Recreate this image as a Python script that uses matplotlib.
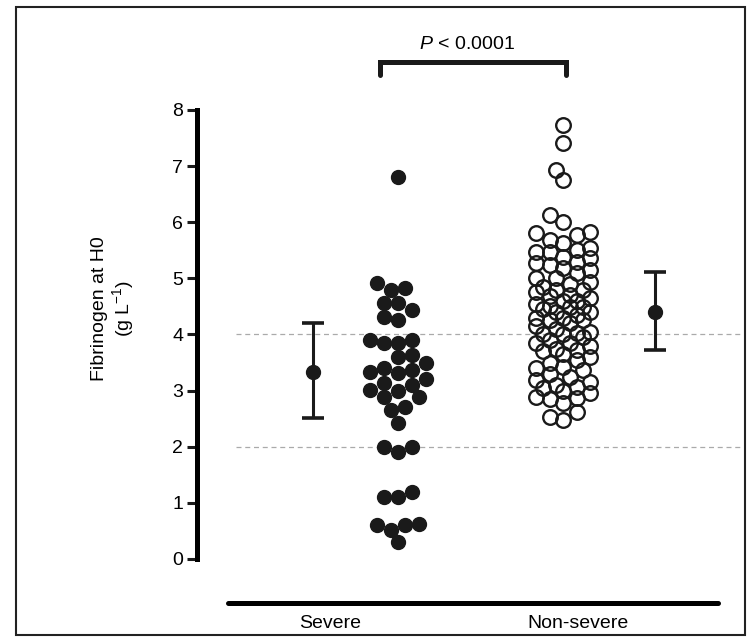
import numpy as np
import matplotlib.pyplot as plt
from matplotlib.patches import Rectangle

plt.rcParams['font.family'] = ['Liberation Sans', 'DejaVu Sans']
plt.rcParams['mathtext.fontset'] = 'custom'
plt.rcParams['mathtext.rm'] = 'Liberation Sans'
plt.rcParams['mathtext.it'] = 'Liberation Sans:italic'

# Fibrinogen at H0 (g/L)
severe = [6.81, 4.92, 4.83, 4.80, 4.56, 4.56, 4.44, 4.31, 4.26, 3.90, 3.90,
          3.85, 3.85, 3.64, 3.60, 3.50, 3.40, 3.37, 3.33, 3.32, 3.20, 3.14,
          3.10, 3.01, 3.00, 2.89, 2.89, 2.71, 2.66, 2.42, 2.00, 2.00, 1.91,
          1.19, 1.11, 1.11, 0.62, 0.61, 0.61, 0.52, 0.30]
non_severe = [7.74, 7.42, 6.93, 6.76, 6.13, 6.00, 5.83, 5.81, 5.78, 5.69, 5.63,
              5.54, 5.51, 5.47, 5.47, 5.38, 5.37, 5.29, 5.28, 5.24, 5.19, 5.15,
              5.10, 5.01, 5.00, 4.94, 4.90, 4.85, 4.80, 4.80, 4.75, 4.70, 4.68,
              4.65, 4.60, 4.60, 4.55, 4.50, 4.49, 4.49, 4.45, 4.40, 4.40, 4.35,
              4.30, 4.30, 4.26, 4.26, 4.20, 4.15, 4.10, 4.05, 4.03, 4.00, 4.00,
              3.95, 3.90, 3.85, 3.85, 3.80, 3.75, 3.73, 3.70, 3.65, 3.60, 3.55,
              3.50, 3.42, 3.40, 3.37, 3.30, 3.25, 3.19, 3.15, 3.10, 3.07, 3.05,
              3.00, 2.95, 2.89, 2.87, 2.85, 2.78, 2.62, 2.53, 2.48]

# mean and interval shown beside each group
severe_summary = [3.33, 2.51, 4.21]      # mean, low, high
non_severe_summary = [4.40, 3.72, 5.12]

group_labels = ['Severe', 'Non-severe']
ref_lines = [2, 4]
p_text = '$P$ < 0.0001'

# pixel scale of the axes (used only to spread the dots sideways)
PX_X = 165.0   # pixels per x unit
PX_Y = 56.1    # pixels per y unit


def swarm_offsets(values, slot_px, min_dist_px, n_slots=4):
    """Simple beeswarm: each dot goes to the nearest slot (grid of slot_px)
    where it keeps min_dist_px from the dots already placed."""
    vals = np.asarray(values)
    slots = [0.0]
    for k in range(1, n_slots + 1):
        slots += [-k * slot_px, k * slot_px]
    placed = []
    offs = np.zeros(len(vals))
    for i in np.argsort(vals):
        y = vals[i] * PX_Y
        best, best_d = None, -1
        for s in slots:
            d = min([np.hypot(s - px, y - py) for px, py in placed] or [1e9])
            if d >= min_dist_px:
                best = s
                break
            if d > best_d:
                best, best_d = s, d
        placed.append((best, y))
        offs[i] = best / PX_X
    return offs


fig = plt.figure(figsize=(7.53, 6.41), dpi=100)
ax = fig.add_axes([197 / 753, 38 / 641, 521 / 753, 493 / 641])

ax.set_xlim(-1.218, 1.939)
ax.set_ylim(-0.784, 8)

# dashed reference lines
for y in ref_lines:
    ax.plot([-0.98, 2.07], [y, y], ls=(0, (4, 3)), color='#aaaaaa', lw=0.9,
            clip_on=False, zorder=1)

# individual patients
x_sev = 0 + swarm_offsets(severe, 7, 13.5)
x_non = 1 + swarm_offsets(non_severe, 6.75, 11.5)
ax.plot(x_sev, severe, 'o', ms=10, color='#1a1a1a', mec='#1a1a1a', zorder=3)
ax.plot(x_non, non_severe, 'o', ms=10.5, mfc='none', mec='#1a1a1a', mew=1.7, zorder=3)

# mean with interval
for xpos, (m, lo, hi) in [(-0.515, severe_summary), (1.558, non_severe_summary)]:
    ax.errorbar(xpos, m, yerr=[[m - lo], [hi - m]], fmt='o', ms=10, color='#1a1a1a',
                ecolor='#1a1a1a', elinewidth=2.2, capsize=8, capthick=2.6, zorder=4)

# significance bracket
ax.plot([-0.109, -0.109, 1.018, 1.018], [8.63, 8.86, 8.86, 8.63], color='#1a1a1a',
        lw=3.6, clip_on=False, solid_capstyle='round', solid_joinstyle='miter')
ax.text(0.418, 9.02, p_text, ha='center', va='bottom', fontsize=14, clip_on=False)

# axes styling
for s in ['top', 'right']:
    ax.spines[s].set_visible(False)
ax.spines['left'].set_bounds(0, 8)
ax.spines['left'].set_linewidth(3.6)
ax.spines['bottom'].set_bounds(-1.03, 1.939)
ax.spines['bottom'].set_linewidth(3.6)
ax.spines['bottom'].set_capstyle('round')

ax.set_yticks(range(0, 9))
ax.tick_params(axis='y', length=7, width=2.2, labelsize=14, pad=3, color='#1a1a1a')
ax.set_xticks([-0.412, 1.091])
ax.set_xticklabels(group_labels, fontsize=14)
ax.tick_params(axis='x', length=0, pad=9)

ax.set_ylabel('Fibrinogen at H0\n(g L$^{-1}$)', fontsize=14, linespacing=1.1)
ax.yaxis.set_label_coords(-0.118, 0.598)

# thin frame around the whole picture
fig.patches.append(Rectangle((16 / 753, 6 / 641), 729 / 753, 628 / 641, fill=False,
                             lw=1.5, edgecolor='#222222', transform=fig.transFigure))

fig.savefig('out.png', dpi=100)
